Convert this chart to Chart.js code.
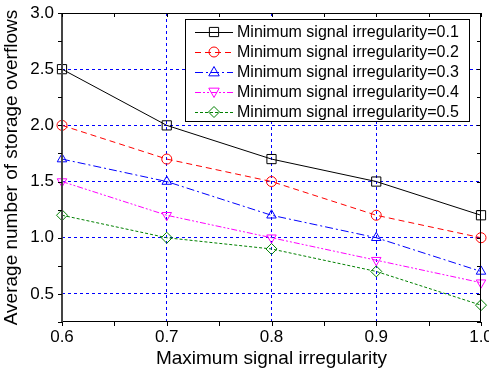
<!DOCTYPE html>
<html>
<head>
<meta charset="utf-8">
<script src="https://cdn.jsdelivr.net/npm/chart.js@4/dist/chart.umd.min.js"></script>
<style>
  html, body { margin: 0; padding: 0; background: #fff; overflow: hidden; }
</style>
</head>
<body>
<canvas id="overflowChart" width="489" height="371"></canvas>
<script>
// values
const maxIrregularity = [0.6, 0.7, 0.8, 0.9, 1.0];
const seriesLabels = [
    "Minimum signal irregularity=0.1",
    "Minimum signal irregularity=0.2",
    "Minimum signal irregularity=0.3",
    "Minimum signal irregularity=0.4",
    "Minimum signal irregularity=0.5"
];
const min01 = [2.5, 2.0, 1.7, 1.5, 1.2];
const min02 = [2.0, 1.7, 1.5, 1.2, 1.0];
const min03 = [1.7, 1.5, 1.2, 1.0, 0.7];
const min04 = [1.5, 1.2, 1.0, 0.8, 0.6];
const min05 = [1.2, 1.0, 0.9, 0.7, 0.4];
const yTickLabels = ["0.5", "1.0", "1.5", "2.0", "2.5", "3.0"];
const xTickLabels = ["0.6", "0.7", "0.8", "0.9", "1.0"];

const FONT = "'Liberation Sans', Arial, sans-serif";

function toPoints(ys) {
    return ys.map((y, i) => ({ x: maxIrregularity[i], y: y }));
}

const styles = [
    { color: "#000000", dash: [], style: "rect", radius: 6.5, rot: 0 },
    { color: "#ff0000", dash: [6, 4], style: "circle", radius: 5, rot: 0 },
    { color: "#0000ff", dash: [8, 3, 2, 3], style: "triangle", radius: 5.5, rot: 0 },
    { color: "#ff00ff", dash: [6, 2, 2, 2, 2, 2], style: "triangle", radius: 5.5, rot: 180 },
    { color: "#008000", dash: [3, 2], style: "rectRot", radius: 5.5, rot: 0 }
];
const allSeries = [min01, min02, min03, min04, min05];

function drawMarker(ctx, s, x, y) {
    const r = s.radius;
    ctx.save();
    ctx.translate(x, y);
    ctx.rotate(s.rot * Math.PI / 180);
    ctx.beginPath();
    if (s.style === "rect") {
        const h = r * Math.SQRT1_2;
        ctx.rect(-h, -h, 2 * h, 2 * h);
    } else if (s.style === "circle") {
        ctx.arc(0, 0, r, 0, Math.PI * 2);
    } else if (s.style === "triangle") {
        ctx.moveTo(0, -r);
        ctx.lineTo(r * 0.95, r * 0.7);
        ctx.lineTo(-r * 0.95, r * 0.7);
        ctx.closePath();
    } else if (s.style === "rectRot") {
        ctx.moveTo(0, -r);
        ctx.lineTo(r, 0);
        ctx.lineTo(0, r);
        ctx.lineTo(-r, 0);
        ctx.closePath();
    }
    ctx.setLineDash([]);
    ctx.lineWidth = 1;
    ctx.strokeStyle = s.color;
    ctx.stroke();
    ctx.restore();
}

// frame, tick marks and the boxed legend
const framePlugin = {
    id: "frame",
    afterDatasetsDraw(chart) {
        const ctx = chart.ctx;
        const a = chart.chartArea;
        const xs = chart.scales.x, ys = chart.scales.y;
        ctx.save();
        ctx.setLineDash([]);
        ctx.strokeStyle = "#000";
        ctx.lineWidth = 1;
        ctx.strokeRect(a.left + 0.5, a.top + 0.5, a.right - a.left - 1, a.bottom - a.top - 1);
        ctx.strokeStyle = "#444";
        ctx.lineWidth = 2;
        ctx.beginPath();
        ctx.moveTo(a.left, a.top);
        ctx.lineTo(a.left, a.bottom);
        ctx.stroke();
        ctx.strokeStyle = "#000";
        ctx.lineWidth = 1;
        ctx.beginPath();
        for (let v = 0.6; v <= 1.0001; v += 0.05) {
            const px = Math.round(xs.getPixelForValue(v)) + 0.5;
            ctx.moveTo(px, a.bottom); ctx.lineTo(px, a.bottom + 4);
            ctx.moveTo(px, a.top); ctx.lineTo(px, a.top + 4);
        }
        for (let v = 0.25; v <= 3.0001; v += 0.25) {
            const py = Math.round(ys.getPixelForValue(v)) + 0.5;
            ctx.moveTo(a.left - 4, py); ctx.lineTo(a.left, py);
            ctx.moveTo(a.right - 4, py); ctx.lineTo(a.right, py);
        }
        ctx.stroke();

        // legend box
        const bx = 185, by = 19, bw = 284, bh = 102;
        ctx.fillStyle = "#fff";
        ctx.fillRect(bx, by, bw, bh);
        ctx.strokeStyle = "#000";
        ctx.strokeRect(bx + 0.5, by + 0.5, bw, bh);
        ctx.font = "16px " + FONT;
        ctx.textBaseline = "middle";
        ctx.textAlign = "left";
        chart.data.datasets.forEach((ds, i) => {
            const s = styles[i];
            const cy = by + 13 + i * 20;
            ctx.beginPath();
            ctx.setLineDash(s.dash);
            ctx.strokeStyle = s.color;
            ctx.lineWidth = 1;
            ctx.moveTo(195, cy + 0.5);
            ctx.lineTo(233, cy + 0.5);
            ctx.stroke();
            drawMarker(ctx, s, 214, cy);
            ctx.fillStyle = "#000";
            ctx.fillText(ds.label, 237, cy + 1);
        });
        ctx.restore();
    }
};

const datasets = allSeries.map((ys, i) => ({
    label: seriesLabels[i],
    data: toPoints(ys),
    borderColor: styles[i].color,
    borderDash: styles[i].dash,
    borderWidth: 1,
    backgroundColor: "rgba(0,0,0,0)",
    pointStyle: styles[i].style,
    pointRotation: styles[i].rot,
    pointRadius: styles[i].radius,
    pointBorderColor: styles[i].color,
    pointBackgroundColor: "rgba(0,0,0,0)",
    pointBorderWidth: 1,
    tension: 0,
    clip: false
}));

const ctx = document.getElementById("overflowChart").getContext("2d");
window.overflowChart = new Chart(ctx, {
    type: "line",
    data: { datasets: datasets },
    options: {
        responsive: false,
        animation: false,
        devicePixelRatio: 1,
        layout: { autoPadding: false, padding: { top: 13, right: 8, left: 0, bottom: 0 } },
        plugins: { legend: { display: false }, tooltip: { enabled: false } },
        scales: {
            x: {
                type: "linear",
                min: 0.6,
                max: 1.0,
                afterFit(scale) {
                    scale.height = 49;
                    scale.paddingLeft = 0;
                    scale.paddingRight = 0;
                },
                ticks: {
                    stepSize: 0.05,
                    autoSkip: false,
                    maxRotation: 0,
                    padding: 5,
                    color: "#000",
                    font: { family: FONT, size: 17 },
                    callback: function (v) {
                        const k = Math.round(v * 100);
                        if (k % 10 !== 0) return "";
                        const idx = xTickLabels.indexOf((k / 100).toFixed(1));
                        return idx >= 0 ? xTickLabels[idx] : "";
                    }
                },
                grid: {
                    drawTicks: false,
                    lineWidth: 1,
                    color: function (c) {
                        const k = Math.round(c.tick.value * 100);
                        return (k === 70 || k === 80 || k === 90) ? "#0000ff" : "rgba(0,0,0,0)";
                    }
                },
                border: { display: false, dash: [3, 3] },
                title: {
                    display: true,
                    text: "Maximum signal irregularity",
                    color: "#000",
                    font: { family: FONT, size: 19 },
                    padding: { top: 0, bottom: 1 }
                }
            },
            y: {
                type: "linear",
                min: 0.25,
                max: 3.0,
                afterFit(scale) {
                    scale.width = 62;
                    scale.paddingTop = 0;
                    scale.paddingBottom = 0;
                },
                ticks: {
                    stepSize: 0.25,
                    autoSkip: false,
                    padding: 8,
                    color: "#000",
                    font: { family: FONT, size: 17 },
                    callback: function (v) {
                        const k = Math.round(v * 100);
                        if (k % 50 !== 0) return "";
                        const idx = yTickLabels.indexOf((k / 100).toFixed(1));
                        return idx >= 0 ? yTickLabels[idx] : "";
                    }
                },
                grid: {
                    drawTicks: false,
                    lineWidth: 1,
                    color: function (c) {
                        const k = Math.round(c.tick.value * 100);
                        return (k % 50 === 0 && k > 25 && k < 300) ? "#0000ff" : "rgba(0,0,0,0)";
                    }
                },
                border: { display: false, dash: [3, 3] },
                title: {
                    display: true,
                    text: "Average number of storage overflows",
                    color: "#000",
                    font: { family: FONT, size: 19 },
                    padding: { top: 0, bottom: 0 }
                }
            }
        }
    },
    plugins: [framePlugin]
});
</script>
</body>
</html>
